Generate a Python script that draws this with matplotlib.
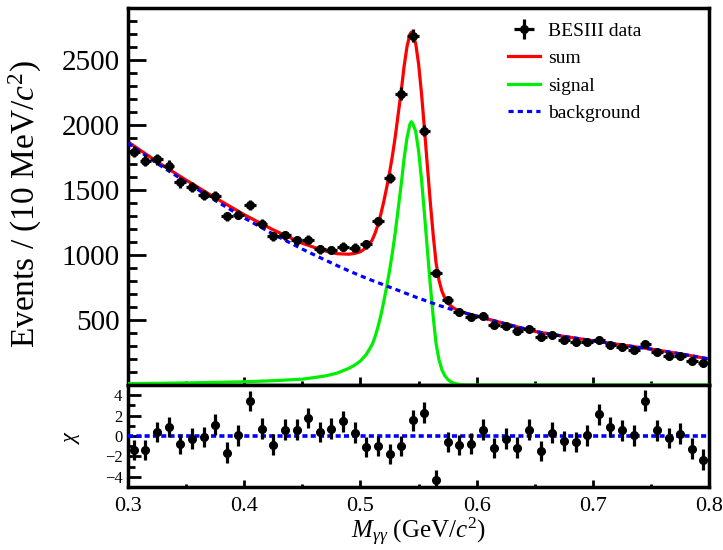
import numpy as np
import matplotlib
matplotlib.use('Agg')
import matplotlib.pyplot as plt
from matplotlib.ticker import MultipleLocator

plt.rcParams['font.family'] = ['Liberation Serif', 'DejaVu Serif']
plt.rcParams['mathtext.fontset'] = 'custom'
plt.rcParams['mathtext.rm'] = 'Liberation Serif'
plt.rcParams['mathtext.it'] = 'Liberation Serif:italic'

# binned data, 10 MeV bins from 0.3 to 0.8
bin_width = 0.01
mass = np.round(np.arange(0.3 + bin_width / 2, 0.8, bin_width), 3)
counts = [1795, 1726, 1737, 1686, 1558, 1520, 1464, 1456, 1298, 1311,
          1387, 1242, 1145, 1152, 1112, 1119, 1043, 1038, 1064, 1056,
          1081, 1259, 1591, 2242, 2688, 1956, 865, 655, 558, 520,
          533, 461, 456, 418, 431, 372, 385, 347, 329, 329,
          349, 311, 291, 272, 316, 252, 226, 222, 188, 168]
chi = [-1.40, -1.40, 0.39, 0.88, -0.81, -0.26, -0.10, 1.11, -1.63, 0.07,
       3.41, 0.72, -0.85, 0.62, 0.62, 1.76, 0.39, 0.72, 1.43, 0.33,
       -1.07, -0.98, -1.79, -0.98, 1.53, 2.29, -4.33, -0.59, -0.91, -0.75,
       0.62, -1.17, -0.26, -1.14, 0.62, -1.46, 0.33, -0.49, -0.59, 0.07,
       2.11, 0.88, 0.55, 0.07, 3.48, 0.55, -0.20, 0.23, -1.24, -2.31]

# fit components
curve_x = [0.30, 0.325, 0.35, 0.375, 0.40, 0.425, 0.45, 0.46, 0.47, 0.48,
           0.49, 0.495, 0.50, 0.505, 0.51, 0.5125, 0.515, 0.5175, 0.52, 0.5225,
           0.525, 0.5275, 0.53, 0.5325, 0.535, 0.5375, 0.54, 0.5425, 0.54375, 0.545,
           0.5475, 0.55, 0.5525, 0.555, 0.5575, 0.56, 0.5625, 0.565, 0.5675, 0.57,
           0.5725, 0.575, 0.5775, 0.58, 0.5825, 0.585, 0.5875, 0.59, 0.60, 0.625,
           0.65, 0.675, 0.70, 0.725, 0.75, 0.775, 0.80]
bkg = [1860, 1705, 1560, 1420, 1285, 1160, 1045, 1002, 960, 918,
       878, 859, 840, 822, 804, 796, 787, 779, 770, 762,
       753, 745, 736, 728, 719, 710, 702, 693, 689, 685,
       676, 668, 660, 652, 644, 636, 628, 620, 612, 605,
       598, 591, 584, 578, 571, 565, 559, 553, 530, 470,
       412, 374, 340, 308, 276, 240, 200]
sig = [10, 13, 16, 20, 25, 33, 45, 57, 70, 92,
       128, 153, 185, 235, 310, 370, 445, 535, 640, 755,
       880, 1020, 1180, 1360, 1540, 1740, 1900, 2005, 2025, 2010,
       1950, 1800, 1580, 1320, 1045, 775, 530, 320, 195, 118,
       72, 44, 26, 15, 9, 5, 2.5, 1, 0, 0,
       0, 0, 0, 0, 0, 0, 0]

total = np.array(bkg) + np.array(sig)

fig = plt.figure(figsize=(7.23, 5.5), dpi=100)
ax = fig.add_axes([0.177, 0.30, 0.804, 0.6855])
axr = fig.add_axes([0.177, 0.1145, 0.804, 0.1855], sharex=ax)

ax.plot(curve_x, total, color='red', lw=2.3, zorder=2, label='sum')
ax.plot(curve_x, sig, color='#00ee00', lw=2.3, zorder=3, label='signal')
ax.plot(curve_x, bkg, color='blue', lw=2.3, ls=(0, (1.6, 1.3)), zorder=4, label='background')
data = ax.errorbar(mass, counts, xerr=bin_width / 2, yerr=np.sqrt(counts), fmt='o',
                   color='black', ms=5.5, elinewidth=2.3, capsize=0, zorder=5,
                   label='BESIII data')

h, l = ax.get_legend_handles_labels()
order = [l.index(n) for n in ['BESIII data', 'sum', 'signal', 'background']]
ax.legend([h[i] for i in order], [l[i] for i in order], loc='upper left',
          bbox_to_anchor=(0.654, 0.962), frameon=False, fontsize=14,
          borderpad=0, borderaxespad=0, handlelength=1.65, handletextpad=0.4,
          labelspacing=0.5)

ax.set_xlim(0.3, 0.8)
ax.set_ylim(0, 2900)
ax.set_yticks([500, 1000, 1500, 2000, 2500])
ax.yaxis.set_minor_locator(MultipleLocator(100))
ax.xaxis.set_major_locator(MultipleLocator(0.1))
ax.xaxis.set_minor_locator(MultipleLocator(0.05))
ax.tick_params(which='both', direction='in', top=False, right=False,
               labelbottom=False, labelsize=21, width=2)
ax.tick_params(axis='y', which='major', length=13, pad=6)
ax.tick_params(axis='y', which='minor', length=6.5)
ax.tick_params(axis='x', which='major', length=6)
ax.tick_params(axis='x', which='minor', length=3)
ax.set_ylabel('Events / (10 MeV/$c^2$)', fontsize=24)
ax.yaxis.set_label_coords(-0.145, 0.48)

axr.errorbar(mass, chi, yerr=1, fmt='o', color='black', ms=5.5, elinewidth=2.3,
             capsize=0, zorder=5)
axr.axhline(0, color='blue', lw=2.6, ls=(0, (1.4, 0.9)), zorder=3)
axr.set_ylim(-5, 5)
axr.yaxis.set_major_locator(MultipleLocator(2))
axr.yaxis.set_minor_locator(MultipleLocator(1))
axr.tick_params(which='both', direction='in', top=False, right=False, width=2)
axr.tick_params(axis='y', which='major', length=9.5, labelsize=12, pad=4)
axr.tick_params(axis='y', which='minor', length=5)
axr.tick_params(axis='x', which='major', length=5, labelsize=16, pad=7)
axr.tick_params(axis='x', which='minor', length=2.5)
axr.set_ylabel(r'$\chi$', fontsize=16)
axr.yaxis.set_label_coords(-0.079, 0.49)
axr.set_xlabel(r'$M_{\gamma\gamma}$ (GeV/$c^2$)', fontsize=18, labelpad=0)

for a in (ax, axr):
    for s in a.spines.values():
        s.set_linewidth(2.5)

fig.savefig('out.png', dpi=100)
